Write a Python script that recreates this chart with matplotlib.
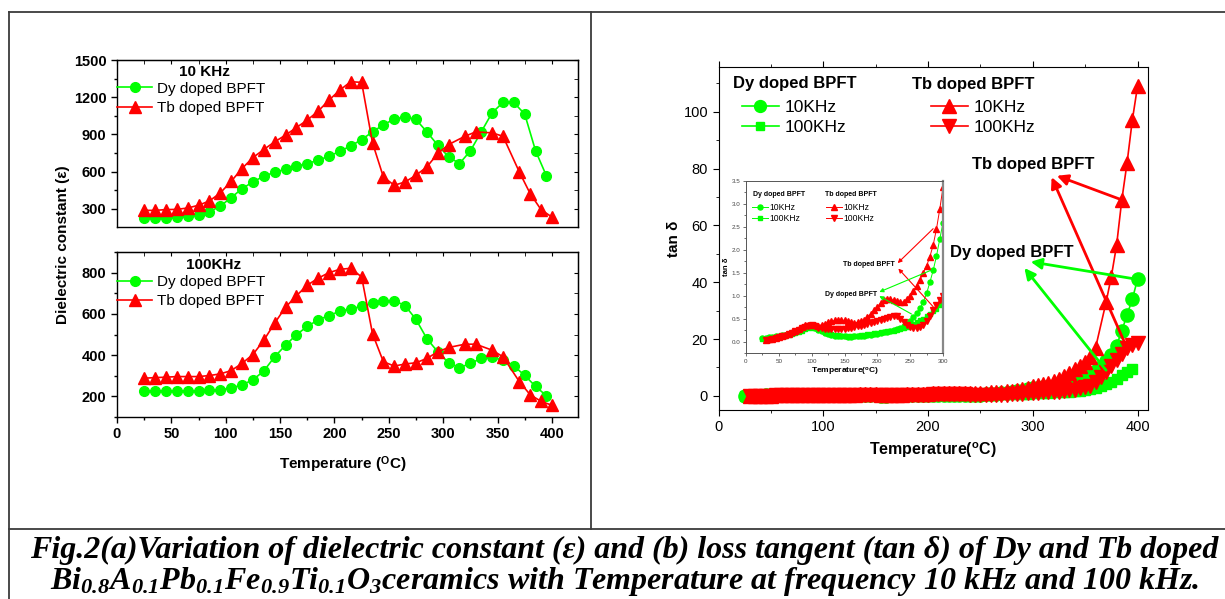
import matplotlib
matplotlib.use('Agg')
import matplotlib.pyplot as plt
from matplotlib.lines import Line2D
from matplotlib.ticker import MultipleLocator

plt.rcParams['font.family'] = ['Liberation Sans', 'DejaVu Sans']
plt.rcParams['mathtext.fontset'] = 'custom'
plt.rcParams['mathtext.rm'] = 'Liberation Serif:bold:italic'
plt.rcParams['mathtext.bf'] = 'Liberation Sans:bold'
plt.rcParams['mathtext.default'] = 'rm'

GREEN = '#00ff00'
RED = '#ff0000'
FRAME = '#3c3c3c'

# ---- dielectric constant (a) ----
temp_dy = [25, 35, 45, 55, 65, 75, 85, 95, 105, 115, 125, 135, 145, 155, 165, 175, 185, 195, 205,
           215, 225, 235, 245, 255, 265, 275, 285, 295, 305, 315, 325, 335, 345, 355, 365, 375, 385, 395]
temp_tb = [25, 35, 45, 55, 65, 75, 85, 95, 105, 115, 125, 135, 145, 155, 165, 175, 185, 195, 205,
           215, 225, 235, 245, 255, 265, 275, 285, 295, 305, 320, 330, 345, 355, 370, 380, 390, 400]

eps10_dy = [227, 227, 227, 235, 241, 254, 276, 324, 391, 464,
            518, 564, 596, 620, 644, 666, 693, 725, 765, 808,
            859, 921, 978, 1024, 1042, 1021, 921, 814, 720, 666,
            768, 921, 1075, 1158, 1158, 1064, 768, 566]
eps10_tb = [289, 289, 295, 297, 308, 330, 365, 429, 523, 626,
            714, 779, 841, 895, 956, 1016, 1088, 1177, 1258, 1325,
            1320, 833, 558, 491, 518, 572, 639, 747, 819,
            886, 921, 913, 886, 599, 424, 295, 235]
eps100_dy = [227, 227, 227, 227, 227, 227, 229, 232, 240, 256,
             280, 323, 392, 448, 499, 539, 571, 592, 613, 624,
             637, 651, 664, 664, 640, 573, 480, 416, 363, 339,
             360, 384, 389, 376, 347, 302, 248, 203]
eps100_tb = [288, 291, 293, 296, 296, 296, 301, 309, 325, 360,
             403, 472, 555, 632, 688, 739, 773, 800, 816, 821,
             779, 504, 368, 347, 357, 363, 384, 416, 437,
             453, 453, 424, 392, 272, 208, 176, 157]

# ---- loss tangent (b) ----
temp_tan_dy10 = list(range(25, 401, 5))
temp_tan_dy100 = list(range(25, 396, 5))
temp_tan_tb10 = list(range(30, 361, 5)) + [370, 375, 380, 385, 390, 395, 400]
temp_tan_tb100 = list(range(30, 401, 5))

tan_dy10 = [0.07, 0.08, 0.09, 0.10, 0.11, 0.12, 0.14, 0.15, 0.17, 0.19,
            0.21, 0.24, 0.27, 0.30, 0.32, 0.32, 0.30, 0.26, 0.22, 0.19,
            0.17, 0.15, 0.13, 0.12, 0.11, 0.11, 0.10, 0.10, 0.11, 0.11,
            0.12, 0.13, 0.14, 0.15, 0.16, 0.17, 0.18, 0.20, 0.21, 0.23,
            0.25, 0.27, 0.30, 0.34, 0.39, 0.45, 0.53, 0.62, 0.73, 0.86,
            1.05, 1.29, 1.55, 1.86, 2.23, 2.59, 2.8, 3.0, 3.2, 3.4,
            3.6, 3.8, 4.2, 4.7, 5.3, 6.1, 7.2, 8.6, 10.2, 12.2,
            14.5, 17.7, 22.9, 28.5, 34.0, 41.0]
tan_dy100 = [0.05, 0.06, 0.07, 0.08, 0.09, 0.10, 0.12, 0.13, 0.15, 0.17,
             0.19, 0.21, 0.24, 0.27, 0.29, 0.30, 0.29, 0.27, 0.24, 0.21,
             0.19, 0.17, 0.15, 0.14, 0.13, 0.12, 0.12, 0.12, 0.12, 0.13,
             0.14, 0.15, 0.16, 0.17, 0.18, 0.19, 0.20, 0.21, 0.22, 0.23,
             0.24, 0.26, 0.28, 0.30, 0.32, 0.35, 0.38, 0.42, 0.46, 0.50,
             0.55, 0.60, 0.66, 0.72, 0.80, 0.88, 0.95, 1.0, 1.1, 1.2,
             1.3, 1.4, 1.5, 1.6, 1.7, 1.9, 2.3, 2.8, 3.3, 4.1,
             5.0, 6.0, 7.2, 8.3, 9.4]
tan_tb10 = [0.04, 0.05, 0.06, 0.08, 0.10, 0.12, 0.14, 0.17, 0.20, 0.24,
            0.28, 0.32, 0.35, 0.37, 0.37, 0.35, 0.34, 0.36, 0.39, 0.42,
            0.44, 0.46, 0.47, 0.47, 0.46, 0.44, 0.42, 0.41, 0.42, 0.44,
            0.48, 0.54, 0.60, 0.68, 0.76, 0.84, 0.90, 0.92, 0.92, 0.90,
            0.88, 0.86, 0.86, 0.92, 1.00, 1.10, 1.22, 1.35, 1.50, 1.65,
            1.85, 2.10, 2.45, 2.88, 3.36, 3.7, 4.1, 4.6, 5.2, 5.9,
            6.8, 8.0, 9.3, 10.6, 12.0, 13.5, 17.0,
            33, 42, 53, 69, 82, 97, 109]
tan_tb100 = [0.03, 0.04, 0.05, 0.07, 0.09, 0.11, 0.13, 0.16, 0.19, 0.22,
             0.26, 0.29, 0.32, 0.34, 0.35, 0.33, 0.30, 0.29, 0.28, 0.28,
             0.27, 0.27, 0.27, 0.27, 0.28, 0.29, 0.30, 0.31, 0.33, 0.34,
             0.36, 0.38, 0.40, 0.42, 0.45, 0.48, 0.50, 0.52, 0.54, 0.56,
             0.55, 0.50, 0.42, 0.35, 0.32, 0.30, 0.30, 0.32, 0.36, 0.45,
             0.55, 0.68, 0.80, 0.90, 1.00, 1.1, 1.2, 1.3, 1.4, 1.5,
             1.6, 1.9, 2.2, 2.7, 3.1, 3.6, 4.8, 6.5, 8.5, 10.5,
             12.7, 14.8, 16.8, 17.8, 18.5]

W, H = 1225, 599
fig = plt.figure(figsize=(W / 100, H / 100), dpi=100)


def px_rect(x0, y0, x1, y1):
    return [x0 / W, 1 - y1 / H, (x1 - x0) / W, (y1 - y0) / H]


def frame_line(xs, ys):
    fig.add_artist(Line2D([x / W for x in xs], [1 - y / H for y in ys],
                          color=FRAME, lw=1.3))


# table frame round the two panels and the caption
frame_line([9, W], [12, 12])
frame_line([9, 9], [12, H])
frame_line([591, 591], [12, 529])
frame_line([9, W], [529, 529])


def style_left(ax, yticks, yminor, show_x):
    ax.set_xlim(0, 424)
    ax.set_xticks(range(0, 401, 50))
    ax.xaxis.set_minor_locator(MultipleLocator(25))
    ax.set_yticks(yticks)
    ax.yaxis.set_minor_locator(MultipleLocator(yminor))
    ax.set_yticklabels([str(v) for v in yticks], fontweight='bold', fontsize=10.5)
    if show_x:
        ax.set_xticklabels([str(v) for v in range(0, 401, 50)], fontweight='bold', fontsize=10.5)
    else:
        ax.tick_params(axis='x', which='both', bottom=False, labelbottom=False)
    ax.tick_params(which='major', length=4, width=1)
    ax.tick_params(which='minor', length=2, width=1)
    for s in ax.spines.values():
        s.set_linewidth(1.0)
    top = ax.secondary_xaxis('top')
    top.set_xticks(range(0, 401, 50))
    top.xaxis.set_minor_locator(MultipleLocator(25))
    top.tick_params(which='both', direction='in', labeltop=False, length=3)
    right = ax.secondary_yaxis('right')
    right.set_yticks(yticks)
    right.yaxis.set_minor_locator(MultipleLocator(yminor))
    right.tick_params(which='both', direction='in', labelright=False, length=3)


ax1 = fig.add_axes(px_rect(117, 60, 578, 227))
ax1.plot(temp_dy, eps10_dy, '-o', color=GREEN, ms=7, lw=1.2, label='Dy doped BPFT')
ax1.plot(temp_tb, eps10_tb, '-^', color=RED, ms=8, lw=1.2, label='Tb doped BPFT')
ax1.set_ylim(155, 1500)
style_left(ax1, [300, 600, 900, 1200, 1500], 150, False)
ax1.text(0.19, 0.93, '10 KHz', transform=ax1.transAxes, fontsize=11, fontweight='bold',
         ha='center', va='center')
ax1.legend(loc='upper left', bbox_to_anchor=(0.0, 0.87), frameon=False, fontsize=11,
           handlelength=2.3, handletextpad=0.3, borderpad=0, borderaxespad=0, labelspacing=0.35)

ax2 = fig.add_axes(px_rect(117, 252, 578, 417))
ax2.plot(temp_dy, eps100_dy, '-o', color=GREEN, ms=7, lw=1.2, label='Dy doped BPFT')
ax2.plot(temp_tb, eps100_tb, '-^', color=RED, ms=8, lw=1.2, label='Tb doped BPFT')
ax2.set_ylim(100, 900)
style_left(ax2, [200, 400, 600, 800], 100, True)
ax2.text(0.21, 0.92, '100KHz', transform=ax2.transAxes, fontsize=11, fontweight='bold',
         ha='center', va='center')
ax2.legend(loc='upper left', bbox_to_anchor=(0.0, 0.86), frameon=False, fontsize=11,
           handlelength=2.3, handletextpad=0.3, borderpad=0, borderaxespad=0, labelspacing=0.35)

fig.text(63 / W, 1 - 245 / H, 'Dielectric constant (ε)', rotation=90, fontsize=11,
         fontweight='bold', ha='center', va='center')
fig.text(343 / W, 1 - 465 / H, r'Temperature ($^{\mathbf{O}}$C)', fontsize=11,
         fontweight='bold', ha='center', va='center')

# ---- loss tangent, full range ----
ax3 = fig.add_axes(px_rect(718.5, 67, 1148, 410))
ax3.plot(temp_tan_dy10, tan_dy10, '-o', color=GREEN, ms=9.5, lw=1.2)
ax3.plot(temp_tan_dy100, tan_dy100, '-s', color=GREEN, ms=7, lw=1.2)
ax3.plot(temp_tan_tb10, tan_tb10, '-^', color=RED, ms=10.5, lw=1.2)
ax3.plot(temp_tan_tb100, tan_tb100, '-v', color=RED, ms=10.5, lw=1.2)
ax3.set_xlim(0, 410)
ax3.set_ylim(-5, 115.8)
ax3.set_xticks([0, 100, 200, 300, 400])
ax3.xaxis.set_minor_locator(MultipleLocator(50))
ax3.set_yticks([0, 20, 40, 60, 80, 100])
ax3.yaxis.set_minor_locator(MultipleLocator(10))
ax3.tick_params(which='both', top=True, right=False, direction='out', labelsize=10.5)
ax3.tick_params(which='major', length=4)
ax3.tick_params(which='minor', length=2.5)
ax3.set_xlabel('Temperature($^{\\mathbf{o}}$C)', fontsize=11.5, fontweight='bold', labelpad=4)
ax3.set_ylabel('tan δ', fontsize=11, fontweight='bold', labelpad=2)

# legend block with group headers
ax3.text(0.034, 0.953, 'Dy doped BPFT', transform=ax3.transAxes, fontsize=12,
         fontweight='bold', ha='left', va='center')
ax3.text(0.450, 0.948, 'Tb doped BPFT', transform=ax3.transAxes, fontsize=12,
         fontweight='bold', ha='left', va='center')
h = ax3.get_lines()
leg_dy = ax3.legend([h[0], h[1]], ['10KHz', '100KHz'], loc='upper left',
                    bbox_to_anchor=(0.055, 0.905), frameon=False, fontsize=12.5,
                    handlelength=2.1, handletextpad=0.35, borderpad=0, borderaxespad=0,
                    labelspacing=0.28, markerscale=0.9)
ax3.add_artist(leg_dy)
ax3.legend([h[2], h[3]], ['10KHz', '100KHz'], loc='upper left',
           bbox_to_anchor=(0.495, 0.905), frameon=False, fontsize=12.5,
           handlelength=2.1, handletextpad=0.35, borderpad=0, borderaxespad=0,
           labelspacing=0.28, markerscale=0.9)

arrow_red = dict(arrowstyle='-|>', color=RED, lw=2, mutation_scale=16, shrinkA=0, shrinkB=0)
arrow_green = dict(arrowstyle='-|>', color=GREEN, lw=2, mutation_scale=16, shrinkA=0, shrinkB=0)
ax3.text(242, 81.3, 'Tb doped BPFT', fontsize=12, fontweight='bold', ha='left', va='center')
ax3.annotate('', xy=(323, 77.5), xytext=(385, 69), arrowprops=arrow_red)
ax3.annotate('', xy=(318, 77), xytext=(390, 16.8), arrowprops=arrow_red)
ax3.text(221, 50.3, 'Dy doped BPFT', fontsize=12, fontweight='bold', ha='left', va='center')
ax3.annotate('', xy=(298, 47.2), xytext=(400, 41), arrowprops=arrow_green)
ax3.annotate('', xy=(292, 45), xytext=(370, 9), arrowprops=arrow_green)

# ---- loss tangent, inset up to 300 C ----
ax4 = fig.add_axes(px_rect(746, 181, 943, 353))
ax4.plot(temp_tan_dy10, tan_dy10, '-o', color=GREEN, ms=3.6, lw=0.7)
ax4.plot(temp_tan_dy100, tan_dy100, '-s', color=GREEN, ms=2.8, lw=0.7)
ax4.plot(temp_tan_tb10, tan_tb10, '-^', color=RED, ms=3.8, lw=0.7)
ax4.plot(temp_tan_tb100, tan_tb100, '-v', color=RED, ms=3.8, lw=0.7)
ax4.set_xlim(0, 300)
ax4.set_ylim(-0.25, 3.5)
ax4.set_xticks(range(0, 301, 50))
ax4.set_yticks([0, 0.5, 1.0, 1.5, 2.0, 2.5, 3.0, 3.5])
ax4.set_yticklabels(['0.0', '0.5', '1.0', '1.5', '2.0', '2.5', '3.0', '3.5'])
ax4.xaxis.set_minor_locator(MultipleLocator(25))
ax4.yaxis.set_minor_locator(MultipleLocator(0.25))
ax4.tick_params(which='both', direction='out', labelsize=4.5, labelcolor='#444444',
                color='#555555', width=0.6, pad=1.5)
ax4.tick_params(which='major', length=2.5)
ax4.tick_params(which='minor', length=1.5)
for s in ax4.spines.values():
    s.set_color('#555555')
    s.set_linewidth(0.7)
ax4.spines['right'].set_color('#888888')
ax4.spines['right'].set_linewidth(1.6)
ax4.set_xlabel('Temperature($^{\\mathbf{o}}$C)', fontsize=6, fontweight='bold', labelpad=1.5)
ax4.set_ylabel('tan δ', fontsize=5.5, fontweight='bold', labelpad=1.5)

ax4.text(0.037, 0.924, 'Dy doped BPFT', transform=ax4.transAxes, fontsize=5,
         fontweight='bold', ha='left', va='center')
ax4.text(0.401, 0.924, 'Tb doped BPFT', transform=ax4.transAxes, fontsize=5,
         fontweight='bold', ha='left', va='center')
g = ax4.get_lines()
leg_in = ax4.legend([g[0], g[1]], ['10KHz', '100KHz'], loc='upper left',
                    bbox_to_anchor=(0.03, 0.873), frameon=False, fontsize=6.2,
                    handlelength=1.9, handletextpad=0.15, borderpad=0, borderaxespad=0,
                    labelspacing=0.3)
ax4.add_artist(leg_in)
ax4.legend([g[2], g[3]], ['10KHz', '100KHz'], loc='upper left',
           bbox_to_anchor=(0.406, 0.873), frameon=False, fontsize=6.2,
           handlelength=1.9, handletextpad=0.15, borderpad=0, borderaxespad=0,
           labelspacing=0.3)

small_red = dict(arrowstyle='-|>', color=RED, lw=0.8, mutation_scale=6, shrinkA=0, shrinkB=0)
small_green = dict(arrowstyle='-|>', color=GREEN, lw=0.8, mutation_scale=6, shrinkA=0, shrinkB=0)
ax4.text(227, 1.67, 'Tb doped BPFT', fontsize=5, fontweight='bold', ha='right', va='center')
ax4.annotate('', xy=(231, 1.71), xytext=(285, 2.46), arrowprops=small_red)
ax4.annotate('', xy=(232, 1.59), xytext=(285, 0.76), arrowprops=small_red)
ax4.text(199, 1.02, 'Dy doped BPFT', fontsize=5, fontweight='bold', ha='right', va='center')
ax4.annotate('', xy=(203, 1.08), xytext=(281, 1.55), arrowprops=small_green)
ax4.annotate('', xy=(203, 0.99), xytext=(252, 0.6), arrowprops=small_green)

# caption
cap1 = 'Fig.2(a)Variation of dielectric constant (ε) and (b) loss tangent (tan δ) of Dy and Tb doped'
cap2 = (r'$Bi_{0.8}A_{0.1}Pb_{0.1}Fe_{0.9}Ti_{0.1}O_{3}$'
        'ceramics with Temperature at frequency 10 kHz and 100 kHz.')
for txt, yb in [(cap1, 558), (cap2, 589)]:
    fig.text(624 / W, 1 - yb / H, txt, fontsize=23, family='Liberation Serif',
             fontweight='bold', fontstyle='italic', ha='center', va='baseline')

fig.savefig('out.png', dpi=100)
